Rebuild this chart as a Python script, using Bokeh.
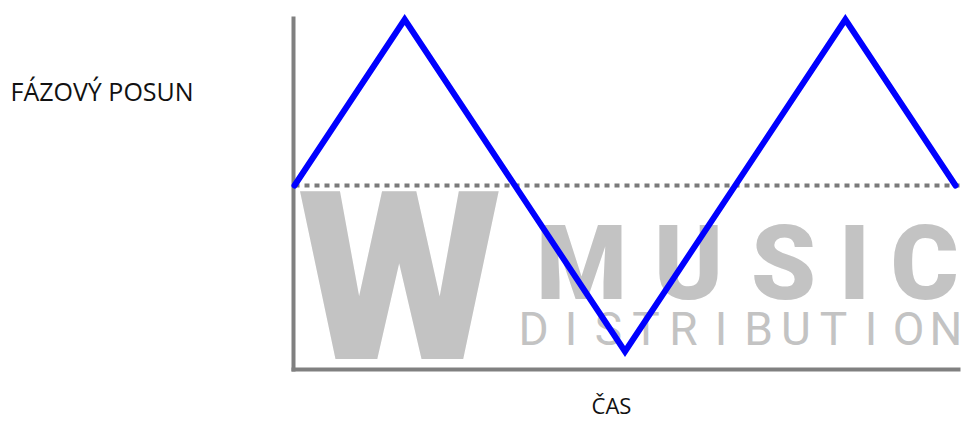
import numpy as np
from bokeh.plotting import figure
from bokeh.core.properties import value
from bokeh.embed import file_html
from bokeh.resources import INLINE

# ---- data ----
time = [0, 1, 3, 5, 6]
phase = [0, 1, -1, 1, 0]
y_label = "FÁZOVÝ POSUN"
x_label = "ČAS"
wm_big = "W"
wm_word = "MUSIC"
wm_sub = "DISTRIBUTION"

# ---- layout helpers (picture pixel -> data) ----
W_PX, H_PX = 964, 421
X0_PX, X_SCALE = 294.0, 110.17   # px of t=0, px per unit
Y0_PX, Y_SCALE = 185.0, 166.0    # px of phase=0, px per unit


def dx(px):
    return (px - X0_PX) / X_SCALE


def dy(py):
    return (Y0_PX - py) / Y_SCALE


p = figure(width=W_PX, height=H_PX,
           x_range=(dx(0), dx(W_PX)), y_range=(dy(H_PX), dy(0)),
           x_axis_type=None, y_axis_type=None,
           output_backend="svg", toolbar_location=None,
           min_border=0)
p.grid.visible = False
p.outline_line_color = None
p.background_fill_color = "white"
p.border_fill_color = "white"

# ---- watermark ----
wm_color = "#c3c3c3"
p.text(x=[dx(399)], y=[dy(278)], text=[wm_big],
       text_font=value("Roboto Black"), text_font_size="235px",
       text_align="center", text_baseline="middle", text_color=wm_color)
music_cx = [581, 688, 783, 854, 924]
p.text(x=[dx(c) for c in music_cx], y=[dy(263)] * len(wm_word),
       text=list(wm_word), text_font=value("Roboto Black"),
       text_font_size="104px", text_align="center", text_baseline="middle",
       text_color=wm_color)
sub_cx = 533 + 37.5 * np.arange(len(wm_sub))
p.text(x=[dx(c) for c in sub_cx], y=[dy(328)] * len(wm_sub),
       text=list(wm_sub), text_font=value("Roboto"),
       text_font_size="46px", text_align="center", text_baseline="middle",
       text_color=wm_color)

# ---- axes (drawn as lines) and zero reference ----
axis_color = "#808080"
p.segment(x0=[dx(293), dx(293)], y0=[dy(369), dy(369)],
          x1=[dx(293), dx(958)], y1=[dy(18), dy(369)],
          line_color=axis_color, line_width=4, line_cap="square")
p.segment(x0=[time[0]], y0=[0], x1=[dx(960)], y1=[0],
          line_color="#7a7a7a", line_width=4, line_dash="5 5")

# ---- wave ----
p.line(time, phase, line_color="#0000ff", line_width=6,
       line_cap="round", line_join="miter")

# ---- labels ----
p.text(x=[dx(10)], y=[dy(90)], text=[y_label],
       text_font=value("Open Sans"), text_font_size="25px",
       text_color="#111111", text_align="left", text_baseline="middle")
p.text(x=[dx(611)], y=[dy(404)], text=[x_label],
       text_font=value("Open Sans"), text_font_size="22px",
       text_color="#111111", text_align="center", text_baseline="middle")

open("out.html", "w").write(file_html(p, INLINE))
